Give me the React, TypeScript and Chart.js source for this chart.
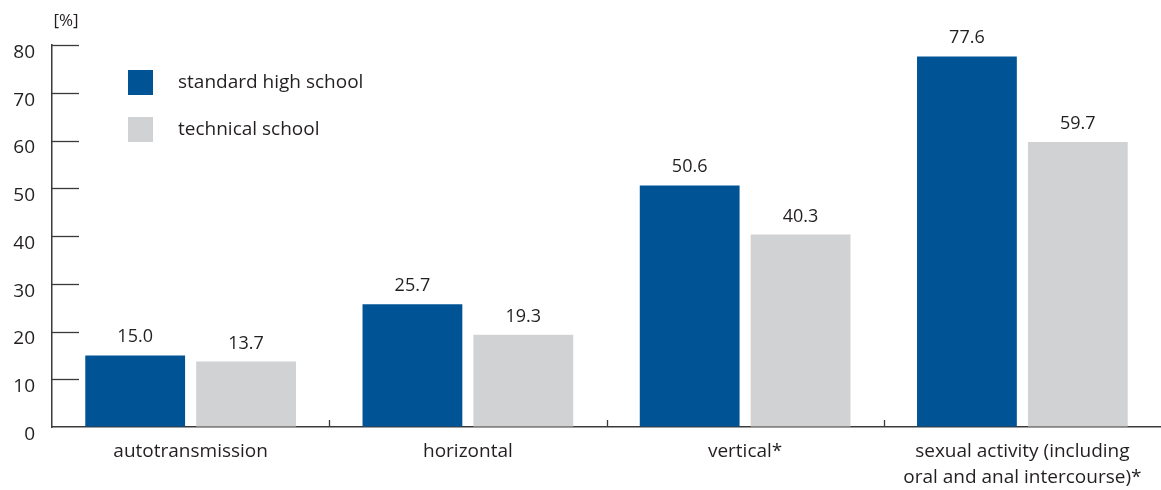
import React, { useEffect, useRef } from "react";
import { Chart, registerables } from "chart.js";

Chart.register(...registerables);

const categories: (string | string[])[] = [
  "autotransmission",
  "horizontal",
  "vertical*",
  ["sexual activity (including", "oral and anal intercourse)*"],
];
const standardHighSchool = [15.0, 25.7, 50.6, 77.6];
const technicalSchool = [13.7, 19.3, 40.3, 59.7];
const seriesLabels = ["standard high school", "technical school"];
const yTicks = [0, 10, 20, 30, 40, 50, 60, 70, 80];
const unitLabel = "[%]";

const BLUE = "#005496";
const GRAY = "#d1d2d4";
const TEXT = "#231f20";
const AXIS = "#3a3a3a";
const FONT = "'Open Sans', sans-serif";

const overlayPlugin = {
  id: "overlay",
  afterDraw(chart: any) {
    const { ctx, chartArea } = chart;
    const x = chart.scales.x;
    const y = chart.scales.y;
    ctx.save();
    ctx.strokeStyle = AXIS;
    ctx.lineWidth = 1.3;
    yTicks.forEach((v) => {
      if (v === 0) return;
      const py = Math.round(y.getPixelForValue(v)) + 0.5;
      ctx.beginPath();
      ctx.moveTo(chartArea.left, py);
      ctx.lineTo(chartArea.left + 27, py);
      ctx.stroke();
    });
    for (let i = 1; i < categories.length; i++) {
      const px = Math.round((x.getPixelForValue(i - 1) + x.getPixelForValue(i)) / 2) + 0.5;
      ctx.beginPath();
      ctx.moveTo(px, chartArea.bottom);
      ctx.lineTo(px, chartArea.bottom - 7);
      ctx.stroke();
    }
    ctx.fillStyle = TEXT;
    ctx.font = `17px ${FONT}`;
    ctx.textAlign = "center";
    ctx.textBaseline = "middle";
    ctx.fillText(unitLabel, chartArea.left + 14, 21);
    ctx.font = `18px ${FONT}`;
    ctx.textBaseline = "alphabetic";
    chart.data.datasets.forEach((ds: any, di: number) => {
      const meta = chart.getDatasetMeta(di);
      meta.data.forEach((bar: any, i: number) => {
        ctx.fillText(ds.data[i].toFixed(1), bar.x, bar.y - 13);
      });
    });
    ctx.font = `19px ${FONT}`;
    ctx.textAlign = "left";
    ctx.textBaseline = "middle";
    chart.data.datasets.forEach((ds: any, di: number) => {
      const top = 70 + di * 47;
      ctx.fillStyle = ds.backgroundColor;
      ctx.fillRect(128, top, 25, 25);
      ctx.fillStyle = TEXT;
      ctx.fillText(ds.label, 178, top + 13);
    });
    ctx.restore();
  },
};

export default function App() {
  const ref = useRef<HTMLCanvasElement>(null);
  useEffect(() => {
    document.body.style.margin = "0";
    const chart = new Chart(ref.current!, {
      type: "bar",
      data: {
        labels: categories,
        datasets: [
          { label: seriesLabels[0], data: standardHighSchool, backgroundColor: BLUE },
          { label: seriesLabels[1], data: technicalSchool, backgroundColor: GRAY },
        ],
      },
      options: {
        animation: false,
        responsive: false,
        maintainAspectRatio: false,
        layout: { padding: { top: 45, right: 0, left: 0, bottom: 0 } },
        datasets: { bar: { categoryPercentage: 0.8, barPercentage: 0.9 } },
        plugins: { legend: { display: false }, tooltip: { enabled: false } },
        scales: {
          x: {
            offset: true,
            grid: { display: true, drawOnChartArea: false, drawTicks: false },
            border: { display: true, color: AXIS, width: 1.5 },
            ticks: {
              color: TEXT,
              padding: 12,
              maxRotation: 0,
              autoSkip: false,
              font: { family: FONT, size: 19, lineHeight: 1.35 },
            },
            afterFit: (s: any) => {
              s.height = 63;
            },
          },
          y: {
            min: 0,
            max: 80,
            afterBuildTicks: (s: any) => {
              s.ticks = yTicks.map((v) => ({ value: v }));
            },
            grid: { display: true, drawOnChartArea: false, drawTicks: false },
            border: { display: true, color: AXIS, width: 1.5 },
            ticks: {
              color: TEXT,
              padding: 17,
              labelOffset: 7.5,
              font: { family: FONT, size: 19 },
            },
            afterFit: (s: any) => {
              s.width = 52;
            },
          },
        },
      },
      plugins: [overlayPlugin],
    });
    return () => chart.destroy();
  }, []);
  return (
    <div style={{ width: 1161, height: 490, position: "relative" }}>
      <canvas ref={ref} width={1161} height={490} style={{ display: "block" }} />
    </div>
  );
}
